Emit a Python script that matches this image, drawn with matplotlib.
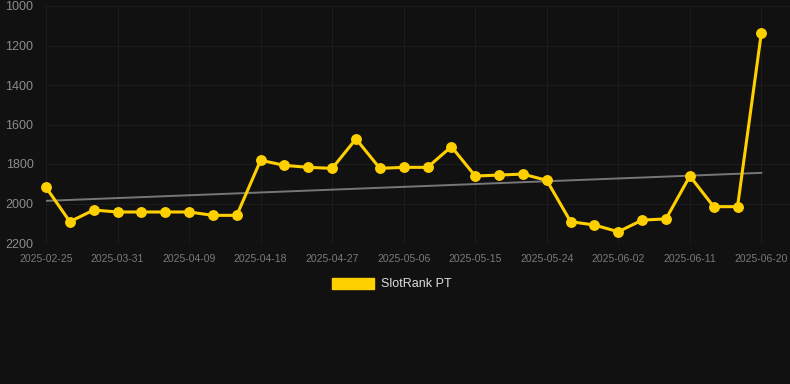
#!/usr/bin/env python3
import numpy as np
import matplotlib.pyplot as plt
from matplotlib.patches import Patch

# rank values (lower is better, axis is reversed)
dates = [
    "2025-02-25", "2025-03-25", "2025-03-28", "2025-03-31", "2025-04-03",
    "2025-04-06", "2025-04-09", "2025-04-12", "2025-04-15", "2025-04-18",
    "2025-04-21", "2025-04-24", "2025-04-27", "2025-04-30", "2025-05-03",
    "2025-05-06", "2025-05-09", "2025-05-12", "2025-05-15", "2025-05-18",
    "2025-05-21", "2025-05-24", "2025-05-27", "2025-05-30", "2025-06-02",
    "2025-06-05", "2025-06-08", "2025-06-11", "2025-06-14", "2025-06-17",
    "2025-06-20",
]
ranks = [
    1918, 2092, 2033, 2043, 2043, 2043, 2043, 2060, 2060, 1781,
    1807, 1817, 1822, 1673, 1822, 1817, 1817, 1712, 1861, 1856,
    1851, 1883, 2092, 2109, 2143, 2084, 2078, 1861, 2016, 2016,
    1135,
]
y_ticks = [1000, 1200, 1400, 1600, 1800, 2000, 2200]

BG = "#111111"
GOLD = "#FFD000"

fig = plt.figure(figsize=(7.9, 3.84), dpi=100, facecolor=BG)
ax = fig.add_axes([46 / 790, 1 - 243 / 384, 744 / 790, 237 / 384])
ax.set_facecolor(BG)

x = np.arange(len(ranks))
ax.plot(x, ranks, color=GOLD, lw=2.2, marker="o", ms=6.8, zorder=3, clip_on=False)

# trend line
k, b = np.polyfit(x, ranks, 1)
ax.plot([x[0], x[-1]], [k * x[0] + b, k * x[-1] + b], color="#777777", lw=1.4, zorder=2)

ax.set_xlim(0, 31.2)
ax.set_ylim(2200, 1000)
ax.set_yticks(y_ticks)
ax.set_xticks(x[::3])
ax.set_xticklabels(dates[::3])
ax.grid(True, color="#1c1c1c", lw=0.8)
ax.axhline(2200, color="#262626", lw=0.8, zorder=1)
ax.set_axisbelow(True)
for s in ax.spines.values():
    s.set_visible(False)
ax.tick_params(axis="x", length=0, pad=8, labelsize=7.5, labelcolor="#7a7a7a")
ax.tick_params(axis="y", length=0, pad=9, labelsize=9, labelcolor="#8c8c8c")
for lbl in ax.get_xticklabels() + ax.get_yticklabels():
    lbl.set_family("Liberation Sans")

handle = Patch(facecolor=GOLD, edgecolor=GOLD)
fig.legend([handle], ["SlotRank PT"], loc="center", bbox_to_anchor=(392 / 790, 1 - 284 / 384),
           frameon=False, handlelength=3.3, handleheight=1.0, handletextpad=0.6,
           prop={"family": "Liberation Sans", "size": 9}, labelcolor="#dddddd")

fig.savefig("out.png", dpi=100, facecolor=BG)
